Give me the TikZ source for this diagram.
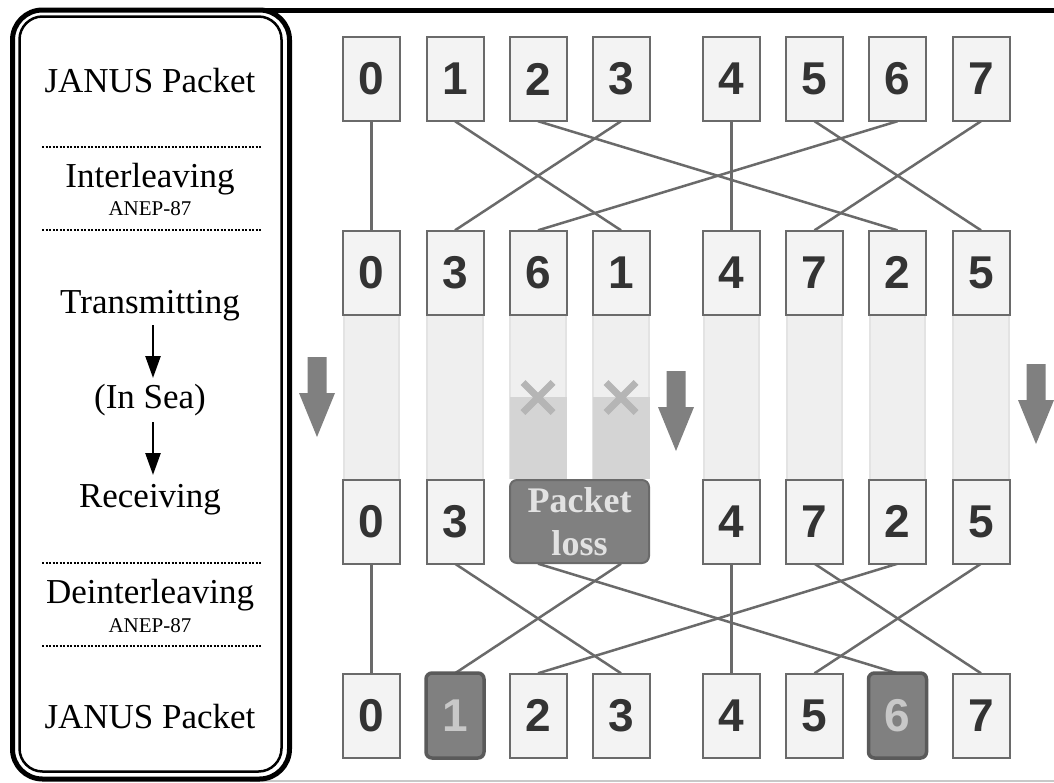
\documentclass[tikz,border=0pt]{standalone}
\usepackage{fontspec}
\setmainfont{Liberation Serif}
\newfontfamily\numfont{Liberation Sans}
\usetikzlibrary{arrows.meta}
\definecolor{boxline}{HTML}{6A6A6A}
\definecolor{boxfill}{HTML}{F3F3F3}
\definecolor{digit}{HTML}{333333}
\definecolor{colfill}{HTML}{EFEFEF}
\definecolor{coledge}{HTML}{E3E3E3}
\definecolor{colloss}{HTML}{D4D4D4}
\definecolor{xgray}{HTML}{B5B5B5}
\definecolor{darkfill}{HTML}{808080}
\definecolor{lighttext}{HTML}{E2E2E2}
\definecolor{lostdigit}{HTML}{C8C8C8}
\definecolor{arrowgray}{HTML}{808080}
\definecolor{linkgray}{HTML}{6A6A6A}
\tikzset{
  slot/.style={draw=boxline, fill=boxfill, line width=2pt, minimum width=57pt, minimum height=84pt,
    inner sep=0pt, text=digit, font=\numfont\bfseries\fontsize{46}{46}\selectfont},
  ghost/.style={minimum width=57pt, minimum height=84pt, inner sep=0pt},
  lostslot/.style={slot, fill=darkfill, draw=boxline!85!black, line width=3.5pt, rounded corners=6pt,
    minimum width=58pt, minimum height=85pt, text=lostdigit},
  lossbox/.style={draw=boxline, fill=darkfill, line width=2pt, rounded corners=7pt, minimum width=139pt,
    minimum height=83pt, inner sep=0pt, align=center, text=lighttext,
    font=\bfseries\fontsize{36}{43}\selectfont},
  link/.style={draw=linkgray, line width=2.5pt},
  lane/.style={fill=colfill},
  laneedge/.style={draw=coledge, line width=2pt},
  lanelow/.style={fill=colloss},
  xmark/.style={draw=xgray, line width=7pt},
  label/.style={font=\fontsize{35}{40}\selectfont, anchor=base},
  smalllabel/.style={font=\fontsize{21}{24}\selectfont, anchor=base},
  sep/.style={line width=2pt, dash pattern=on 2pt off 1.5pt},
  flow/.style={line width=2.5pt, -{Triangle[width=15pt,length=22pt]}},
  bigarrow/.pic={\fill[arrowgray] (-9.5,0) -- (9.5,0) -- (9.5,36) -- (18,36) -- (0,80) -- (-18,36) -- (-9.5,36) -- cycle;}
}
\begin{document}
\begin{tikzpicture}[x=1pt,y=-1pt]
\path[use as bounding box, fill=white] (0,0) rectangle (1054,782);
% frame
\draw[line width=5pt] (250,10) -- (1054,10);
\draw[draw=lostdigit, line width=1.5pt] (250,781) -- (1054,781);
\draw[line width=5pt, rounded corners=30pt, fill=white] (12.5,10) rectangle (289.5,779);
\draw[line width=2.5pt, rounded corners=23pt] (19.5,16.5) rectangle (281.5,771.5);
% left labels
\node[label] (l1) at (150,92) {JANUS Packet};
\draw[sep] (42,147) -- (262,147);
\node[label] (l2) at (150,187) {Interleaving};
\node[smalllabel] (l2s) at (150,215) {ANEP-87};
\draw[sep] (42,230) -- (262,230);
\node[label] (l3) at (150,313) {Transmitting};
\node[label] (l4) at (150,408) {(In Sea)};
\node[label] (l5) at (150,507) {Receiving};
\draw[flow] (153,325) -- (153,378);
\draw[flow] (153,422) -- (153,475);
\draw[sep] (42,563) -- (262,563);
\node[label] (l6) at (150,603) {Deinterleaving};
\node[smalllabel] (l6s) at (150,632) {ANEP-87};
\draw[sep] (42,646) -- (262,646);
\node[label] (l7) at (150,728) {JANUS Packet};
% column positions
\def\xs{0/371.5,1/455,2/538,3/621,4/731.5,5/814.5,6/897.5,7/981}
% ghost nodes for lanes
\foreach \p/\x in \xs {
  \node[ghost] (m\p) at (\x,272.5) {};
  \node[ghost] (r\p) at (\x,521.5) {};
}
% lanes
\foreach \p/\x in \xs {
  \fill[lane] (m\p.south west) rectangle (r\p.north east);
  \draw[laneedge] ([xshift=1pt]m\p.south west) -- ([xshift=1pt]r\p.north west);
  \draw[laneedge] ([xshift=-1pt]m\p.south east) -- ([xshift=-1pt]r\p.north east);
}
\fill[lanelow] (509.5,397) rectangle (r2.north east);
\fill[lanelow] (592.5,397) rectangle (r3.north east);
\draw[xmark] (523,382.5) -- (553,412.5) (523,412.5) -- (553,382.5);
\draw[xmark] (606,382.5) -- (636,412.5) (606,412.5) -- (636,382.5);
% big arrows
\pic at (317,357) {bigarrow};
\pic at (676,371) {bigarrow};
\pic at (1036,364) {bigarrow};
% rows 1 and 4 ghost positions for links
\foreach \p/\x in \xs {
  \node[ghost] (t\p) at (\x,79) {};
  \node[ghost] (b\p) at (\x,715.5) {};
}
% links
\foreach \a/\b in {0/0,1/3,2/6,3/1,4/4,5/7,6/2,7/5} {
  \draw[link] (t\a.south) -- (m\b.north);
}
\foreach \a/\b in {0/0,1/3,2/6,3/1,4/4,5/7,6/2,7/5} {
  \draw[link] (r\a.south) -- (b\b.north);
}
% boxes
\foreach \p/\x in \xs {
  \node[slot] at (t\p) {\p};
}
\foreach \p/\v in {0/0,1/3,2/6,3/1,4/4,5/7,6/2,7/5} {
  \node[slot] at (m\p) {\v};
}
\foreach \p/\v in {0/0,1/3,4/4,5/7,6/2,7/5} {
  \node[slot] at (r\p) {\v};
}
\node[lossbox] (loss) at (579.5,521.5) {Packet\\loss};
\foreach \p in {0,2,3,4,5,7} {
  \node[slot] at (b\p) {\p};
}
\node[lostslot] at (b1) {1};
\node[lostslot] at (b6) {6};
\end{tikzpicture}
\end{document}
